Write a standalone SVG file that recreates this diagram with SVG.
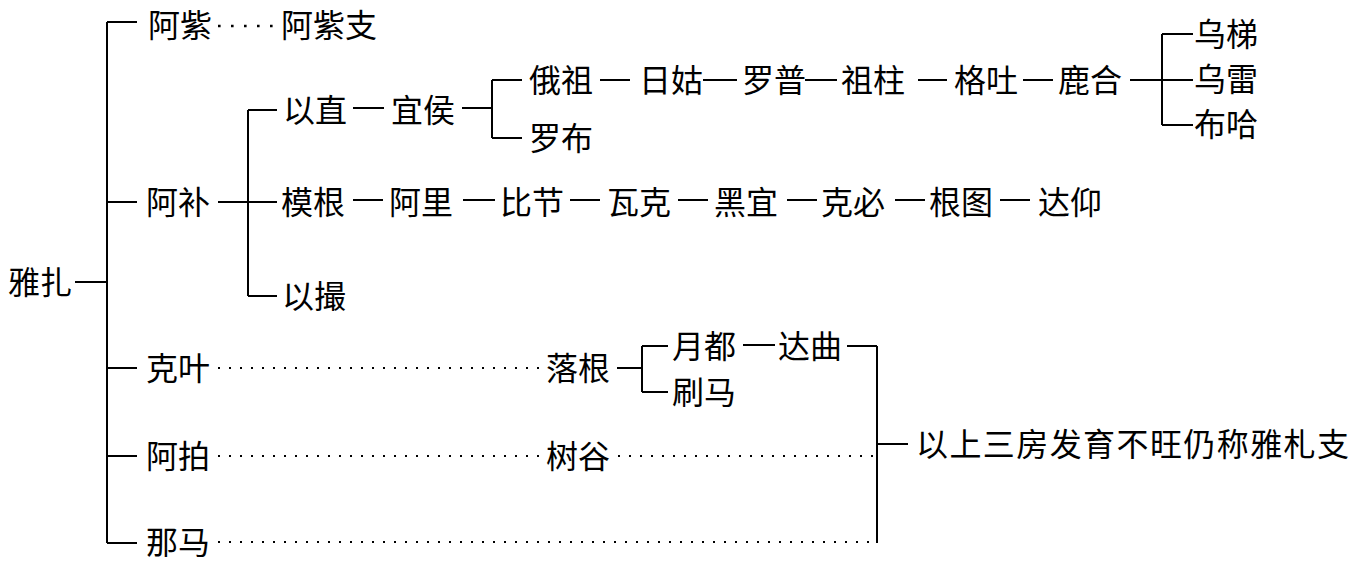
<svg xmlns="http://www.w3.org/2000/svg" width="1353" height="563" viewBox="0 0 1353 563">
<style>
text{font-family:"Noto Sans CJK SC","Noto Sans CJK JP",sans-serif;font-size:32px;fill:#000}
.l{stroke:#000;stroke-width:2;fill:none}
.d{stroke:#000;stroke-width:2.2;fill:none;stroke-dasharray:2 9}
.e{stroke:#000;stroke-width:2.6;fill:none;stroke-dasharray:2.6 10.4}
</style>
<rect width="1353" height="563" fill="#fff"/>
<g id="connectors">
<path class="l" d="M75 282H107M107 22V543M107 22H137M107 202H137M107 368H137M107 456H137M107 543H137"/>
<path class="l" d="M218 202H277M248 110V296M248 110H277M248 296H277"/>
<path class="l" d="M353 108H384"/>
<path class="l" d="M462 108H492M492 80V138M492 80H522M492 138H522"/>
<path class="l" d="M600 80H630M703 80H737M805 80H837M918 80H947M1023 80H1053"/>
<path class="l" d="M1130 80H1193M1162 34V125M1162 34H1193M1162 125H1193"/>
<path class="l" d="M353 200H383M463 200H495M570 200H600M678 200H708M787 200H817M895 200H925M1000 200H1030"/>
<path class="l" d="M617 368H642M642 346V392M642 346H668M642 392H668"/>
<path class="l" d="M743 345H775"/>
<path class="l" d="M847 346H877M877 346V543M877 444H908"/>
<path class="e" d="M218 26H276"/>
<path class="d" d="M218 368H545M218 456H545M618 456H875M218 542H875"/>
</g>
<g id="n-yazha"><text x="8" y="294">雅扎</text></g>
<g id="n-azi"><text x="148" y="37">阿紫</text></g>
<g id="n-azizhi"><text x="281" y="37">阿紫支</text></g>
<g id="n-abu"><text x="146" y="214">阿补</text></g>
<g id="n-yizhi"><text x="283" y="122">以直</text></g>
<g id="n-yihou"><text x="391" y="122">宜侯</text></g>
<g id="n-ezu"><text x="529" y="92">俄祖</text></g>
<g id="n-rigu"><text x="639" y="92">日姑</text></g>
<g id="n-luopu"><text x="742" y="92">罗普</text></g>
<g id="n-zuzhu"><text x="841" y="92">祖柱</text></g>
<g id="n-getu"><text x="954" y="92">格吐</text></g>
<g id="n-luhe"><text x="1058" y="92">鹿合</text></g>
<g id="n-wuti"><text x="1194" y="46">乌梯</text></g>
<g id="n-wulei"><text x="1194" y="91">乌雷</text></g>
<g id="n-buha"><text x="1194" y="136">布哈</text></g>
<g id="n-luobu"><text x="529" y="150">罗布</text></g>
<g id="n-mogen"><text x="281" y="214">模根</text></g>
<g id="n-ali"><text x="389" y="214">阿里</text></g>
<g id="n-bijie"><text x="500" y="214">比节</text></g>
<g id="n-wake"><text x="607" y="214">瓦克</text></g>
<g id="n-heiyi"><text x="714" y="214">黑宜</text></g>
<g id="n-kebi"><text x="821" y="214">克必</text></g>
<g id="n-gentu"><text x="929" y="214">根图</text></g>
<g id="n-dayang"><text x="1038" y="214">达仰</text></g>
<g id="n-yicuo"><text x="282" y="308">以撮</text></g>
<g id="n-keye"><text x="146" y="380">克叶</text></g>
<g id="n-luogen"><text x="546" y="380">落根</text></g>
<g id="n-yuedu"><text x="672" y="358">月都</text></g>
<g id="n-daqu"><text x="778" y="358">达曲</text></g>
<g id="n-shuama"><text x="672" y="404">刷马</text></g>
<g id="n-apai"><text x="146" y="468">阿拍</text></g>
<g id="n-shugu"><text x="546" y="468">树谷</text></g>
<g id="n-nama"><text x="146" y="554">那马</text></g>
<g id="n-note"><text x="916" y="456" textLength="433" lengthAdjust="spacing">以上三房发育不旺仍称雅札支</text></g>
</svg>
